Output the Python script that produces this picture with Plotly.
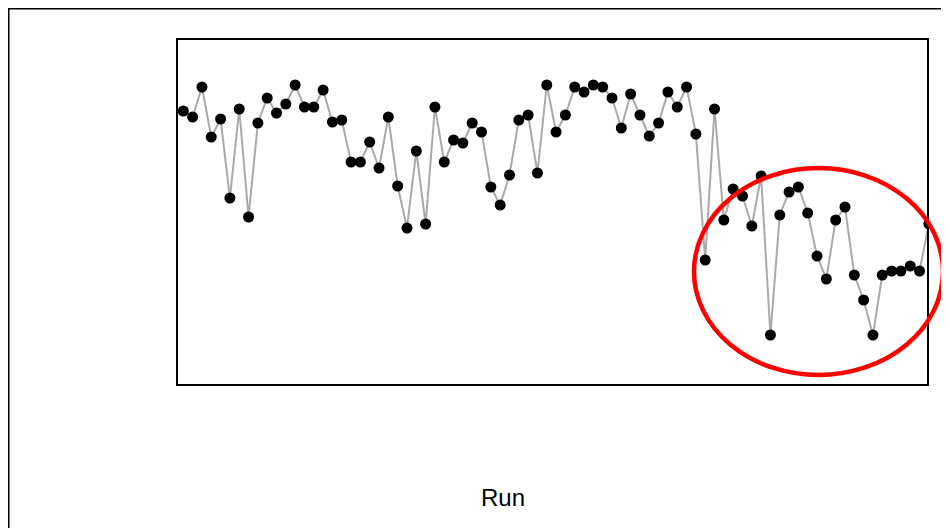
import plotly.graph_objects as go

runs = list(range(1, 82))
values = [272, 266, 296, 246, 264, 185, 274, 166, 260, 285,
          270, 279, 298, 276, 276, 293, 261, 263, 221, 221,
          241, 215, 266, 197, 155, 232, 159, 276, 221, 243,
          240, 260, 251, 196, 178, 208, 263, 268, 210, 298,
          251, 268, 296, 291, 298, 296, 285, 255, 289, 268,
          247, 260, 291, 276, 296, 249, 123, 274, 163, 194,
          187, 157, 207, 48, 168, 191, 196, 170, 127, 104,
          163, 176, 108, 83, 48, 108, 112, 112, 117, 112,
          159]

W, H = 949, 528
OFF = 8  # page body margin
# plot box edges in page (screen) coordinates
L, R, T, B = 178, 927, 40, 384


def px(x):
    return (x - L) / (R - L)


def py(y):
    return (B - y) / (B - T)


fig = go.Figure()
fig.add_trace(go.Scatter(
    x=runs, y=values, mode="lines+markers",
    line=dict(color="#aaaaaa", width=2),
    marker=dict(color="black", size=11),
    showlegend=False, cliponaxis=True,
))

shapes = [
    # outer frame
    dict(type="rect", xref="paper", yref="paper",
         x0=px(OFF + 0.5), x1=px(1010), y0=py(OFF + 0.5), y1=py(560),
         line=dict(color="black", width=2), layer="below"),
    # red highlight ellipse
    dict(type="circle", xref="paper", yref="paper",
         x0=px(694), x1=px(943), y0=py(375), y1=py(168),
         line=dict(color="#ff0000", width=4.5)),
]

fig.update_layout(
    width=W, height=H,
    margin=dict(l=L - OFF, r=W - (R - OFF), t=T - OFF, b=H - (B - OFF), pad=0),
    paper_bgcolor="white", plot_bgcolor="white",
    shapes=shapes,
    xaxis=dict(range=[0.43, 80.8], showgrid=False, zeroline=False,
               showticklabels=False, ticks="", showline=True,
               linecolor="black", linewidth=2, mirror=True),
    yaxis=dict(range=[-1, 343], showgrid=False, zeroline=False,
               showticklabels=False, ticks="", showline=True,
               linecolor="black", linewidth=2, mirror=True),
    annotations=[dict(text="Run", xref="paper", yref="paper",
                      x=px(503), y=py(497), showarrow=False,
                      xanchor="center", yanchor="middle",
                      font=dict(family="Liberation Sans, Arial", size=24,
                                color="black"))],
)

fig.write_html("out.html")
